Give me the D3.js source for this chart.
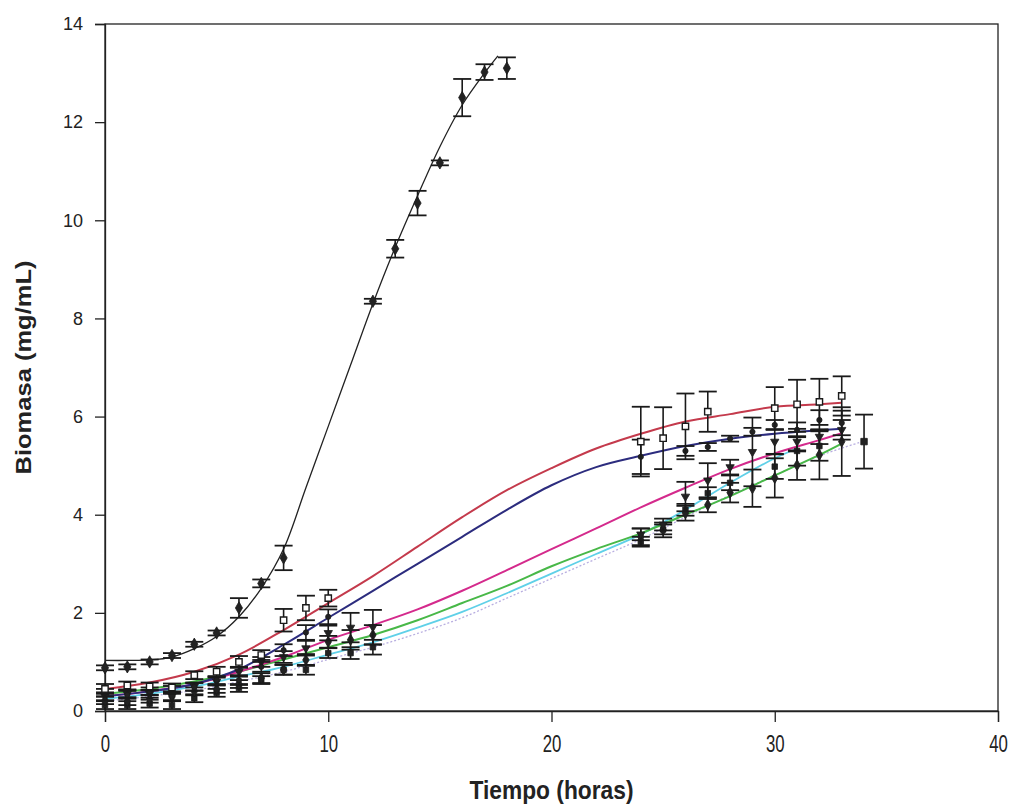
<!DOCTYPE html>
<html>
<head>
<meta charset="utf-8">
<script src="https://cdn.jsdelivr.net/npm/d3@7"></script>
<style>
  body { margin: 0; background: #fff; }
  svg { display: block; }
  .tick text { fill: #222; }
</style>
</head>
<body>
<svg id="chart" width="1017" height="808"></svg>
<script>
// fitted curves (x = hours, y = mg/mL)
const fitBlack   = [[0,1.03],[1,1.03],[2,1.04],[3,1.1],[4,1.27],[5,1.52],[6,1.92],[7,2.5],[8,3.3],[9,4.55],[10,5.8],[11,7.05],[12,8.3],[13,9.45],[14,10.5],[15,11.5],[16,12.35],[17,13.0],[17.6,13.35]];
const fitRed     = [[0,0.45],[2,0.58],[4,0.8],[6,1.15],[8,1.65],[10,2.2],[12,2.75],[14,3.35],[16,3.95],[18,4.5],[20,4.95],[22,5.35],[24,5.65],[26,5.9],[28,6.05],[30,6.2],[32,6.25],[33,6.28]];
const fitNavy    = [[0,0.3],[2,0.4],[4,0.55],[6,0.85],[8,1.35],[10,1.9],[12,2.45],[14,3.0],[16,3.55],[18,4.1],[20,4.6],[22,4.97],[24,5.2],[26,5.4],[28,5.55],[30,5.65],[32,5.72],[33,5.75]];
const fitMagenta = [[0,0.3],[2,0.4],[4,0.55],[6,0.8],[8,1.1],[10,1.45],[12,1.75],[14,2.07],[16,2.45],[18,2.87],[20,3.3],[22,3.72],[24,4.15],[26,4.55],[28,4.93],[30,5.25],[32,5.52],[33,5.66]];
const fitGreen   = [[0,0.35],[2,0.45],[4,0.6],[6,0.8],[8,1.05],[10,1.3],[12,1.55],[14,1.85],[16,2.2],[18,2.55],[20,2.95],[22,3.3],[24,3.62],[26,4.0],[28,4.38],[30,4.8],[32,5.22],[33,5.45]];
const fitCyan    = [[0,0.25],[2,0.35],[4,0.5],[6,0.7],[8,0.9],[10,1.15],[12,1.4],[14,1.7],[16,2.02],[18,2.4],[20,2.8],[22,3.2],[24,3.6],[26,4.1],[28,4.65],[30,5.15],[31,5.35]];
const fitLilac   = [[0,0.2],[2,0.3],[4,0.42],[6,0.6],[8,0.8],[10,1.05],[12,1.3],[14,1.58],[16,1.9],[18,2.3],[20,2.7],[22,3.1],[24,3.5],[26,3.95],[28,4.4],[30,4.8],[32,5.2],[34,5.5]];

// measured points [x, y, error]
const ptsBlack = [[0,0.88,0.05],[1,0.9,0.05],[2,1.0,0.05],[3,1.13,0.05],[4,1.36,0.05],[5,1.59,0.05],[6,2.1,0.2],[7,2.6,0.08],[8,3.12,0.25],[12,8.35,0.05],[13,9.42,0.18],[14,10.35,0.25],[15,11.17,0.05],[16,12.5,0.38],[17,13.02,0.16],[18,13.1,0.22]];
const ptsRed = [[0,0.45,0.1],[1,0.52,0.08],[2,0.5,0.08],[3,0.48,0.08],[4,0.73,0.08],[5,0.8,0.1],[6,1.0,0.12],[7,1.14,0.1],[8,1.85,0.23],[9,2.1,0.25],[10,2.3,0.17],[24,5.49,0.71],[25,5.56,0.63],[26,5.8,0.67],[27,6.1,0.41],[30,6.17,0.43],[31,6.25,0.5],[32,6.3,0.47],[33,6.42,0.4]];
const ptsNavy = [[0,0.37,0.08],[1,0.33,0.08],[2,0.4,0.08],[3,0.43,0.08],[4,0.49,0.08],[5,0.63,0.08],[6,0.63,0.1],[7,0.9,0.1],[8,1.24,0.12],[9,1.6,0.15],[10,1.92,0.15],[24,5.18,0.35],[26,5.3,0.1],[27,5.38,0.08],[28,5.55,0.06],[29,5.69,0.08],[30,5.83,0.1],[31,5.73,0.15],[32,5.93,0.2],[33,5.87,0.25]];
const ptsMagenta = [[0,0.3,0.08],[1,0.35,0.08],[2,0.35,0.08],[3,0.3,0.08],[4,0.5,0.08],[5,0.6,0.08],[6,0.8,0.1],[7,1.0,0.1],[8,1.1,0.12],[9,1.28,0.15],[10,1.59,0.15],[11,1.7,0.3],[12,1.71,0.35],[24,3.6,0.12],[25,3.8,0.12],[26,4.37,0.3],[27,4.7,0.35],[28,4.97,0.15],[29,5.28,0.7],[30,5.49,0.25],[31,5.49,0.2],[32,5.59,0.15],[33,5.73,0.2]];
const ptsGreen = [[0,0.22,0.08],[1,0.2,0.08],[2,0.25,0.08],[3,0.29,0.08],[4,0.4,0.08],[5,0.45,0.08],[6,0.55,0.08],[7,0.67,0.1],[8,0.84,0.1],[9,1.04,0.12],[10,1.41,0.12],[11,1.45,0.2],[12,1.55,0.2],[24,3.55,0.17],[25,3.69,0.15],[26,4.03,0.15],[27,4.2,0.15],[28,4.45,0.2],[29,4.54,0.38],[30,4.75,0.4],[31,5.01,0.3],[32,5.22,0.5],[33,5.49,0.7]];
const ptsCyan = [[0,0.12,0.08],[1,0.12,0.08],[2,0.15,0.08],[3,0.12,0.08],[4,0.26,0.08],[5,0.37,0.08],[6,0.47,0.08],[7,0.63,0.08],[8,0.84,0.1],[9,0.84,0.1],[10,1.18,0.1],[11,1.18,0.12],[12,1.3,0.15],[24,3.45,0.1],[25,3.7,0.1],[26,4.1,0.12],[27,4.44,0.12],[28,4.65,0.15],[30,4.98,0.25],[31,5.3,0.3],[32,5.4,0.3]];
const ptsLilac = [[34,5.49,0.55]];

const xTicks = [0, 10, 20, 30, 40];
const yTicks = [0, 2, 4, 6, 8, 10, 12, 14];

const margin = {left: 105, top: 24, right: 19, bottom: 97};
const width = 1017 - margin.left - margin.right;
const height = 808 - margin.top - margin.bottom;

const svg = d3.select('#chart');
const g = svg.append('g').attr('transform', `translate(${margin.left},${margin.top})`);

const x = d3.scaleLinear().domain([0, 40]).range([0, width]);
const y = d3.scaleLinear().domain([0, 14]).range([height, 0]);

// frame
g.append('rect')
  .attr('width', width).attr('height', height)
  .attr('fill', 'none').attr('stroke', '#222').attr('stroke-width', 1.3);

// axes
const xAxis = g.append('g')
  .attr('transform', `translate(0,${height})`)
  .call(d3.axisBottom(x).tickValues(xTicks).tickSize(11).tickPadding(13).tickFormat(d3.format('d')));
xAxis.selectAll('text')
  .style('font-family', '"Liberation Sans", Arial, sans-serif')
  .style('font-size', '24px')
  .attr('transform', 'scale(0.7,1)');

const yAxis = g.append('g')
  .call(d3.axisLeft(y).tickValues(yTicks).tickSize(10).tickPadding(12).tickFormat(d3.format('d')));
yAxis.selectAll('text')
  .style('font-family', '"Liberation Sans", Arial, sans-serif')
  .style('font-size', '18px');

[xAxis, yAxis].forEach(a => {
  a.select('.domain').attr('stroke', '#222').attr('stroke-width', 1.3);
  a.selectAll('.tick line').attr('stroke', '#222').attr('stroke-width', 1.3);
});

// axis titles
svg.append('text')
  .attr('x', margin.left + x(20) - 82).attr('y', 799)
  .attr('textLength', 164).attr('lengthAdjust', 'spacingAndGlyphs')
  .style('font-family', '"Liberation Sans", Arial, sans-serif')
  .style('font-weight', 'bold').style('font-size', '25px').attr('fill', '#222')
  .text('Tiempo (horas)');

svg.append('text')
  .attr('transform', `translate(31,${margin.top + y(7)}) rotate(-90)`)
  .attr('text-anchor', 'middle')
  .attr('textLength', 214).attr('lengthAdjust', 'spacingAndGlyphs')
  .style('font-family', '"Liberation Sans", Arial, sans-serif')
  .style('font-weight', 'bold').style('font-size', '22px').attr('fill', '#222')
  .text('Biomasa (mg/mL)');

// fitted curves
const line = d3.line().x(d => x(d[0])).y(d => y(d[1])).curve(d3.curveCatmullRom.alpha(0.5));
const fits = [
  {data: fitLilac, color: '#b8aee0', w: 1.3, dash: '2,2'},
  {data: fitCyan, color: '#5fd0e8', w: 1.8},
  {data: fitGreen, color: '#48b848', w: 2},
  {data: fitMagenta, color: '#d42a8c', w: 2},
  {data: fitNavy, color: '#2c2c7e', w: 2},
  {data: fitRed, color: '#c43a4c', w: 2},
  {data: fitBlack, color: '#222', w: 1.3}
];
g.append('g').selectAll('path')
  .data(fits)
  .join('path')
  .attr('d', d => line(d.data))
  .attr('fill', 'none')
  .attr('stroke', d => d.color)
  .attr('stroke-width', d => d.w)
  .attr('stroke-dasharray', d => d.dash || null);

// points with error bars
const series = [
  {data: ptsLilac, symbol: d3.symbolSquare, size: 42, fill: '#222'},
  {data: ptsCyan, symbol: d3.symbolSquare, size: 30, fill: '#222'},
  {data: ptsGreen, symbol: d3.symbolDiamond, size: 36, fill: '#222'},
  {data: ptsMagenta, symbol: d3.symbolTriangle, size: 30, fill: '#222', rotate: 180},
  {data: ptsNavy, symbol: d3.symbolCircle, size: 22, fill: '#222'},
  {data: ptsRed, symbol: d3.symbolSquare, size: 40, fill: '#fff'},
  {data: ptsBlack, symbol: d3.symbolDiamond, size: 44, fill: '#222'}
];
const cap = 9;

series.forEach(s => {
  const sg = g.append('g');
  const bars = sg.selectAll('g.bar').data(s.data).join('g').attr('class', 'bar');
  bars.append('line')
    .attr('x1', d => x(d[0])).attr('x2', d => x(d[0]))
    .attr('y1', d => y(d[1] + d[2])).attr('y2', d => y(d[1] - d[2]))
    .attr('stroke', '#1a1a1a').attr('stroke-width', 1.6);
  bars.append('line')
    .attr('x1', d => x(d[0]) - cap).attr('x2', d => x(d[0]) + cap)
    .attr('y1', d => y(d[1] + d[2])).attr('y2', d => y(d[1] + d[2]))
    .attr('stroke', '#1a1a1a').attr('stroke-width', 1.8);
  bars.append('line')
    .attr('x1', d => x(d[0]) - cap).attr('x2', d => x(d[0]) + cap)
    .attr('y1', d => y(d[1] - d[2])).attr('y2', d => y(d[1] - d[2]))
    .attr('stroke', '#1a1a1a').attr('stroke-width', 1.8);
  sg.selectAll('path.mk').data(s.data).join('path').attr('class', 'mk')
    .attr('d', d3.symbol().type(s.symbol).size(s.size))
    .attr('transform', d => `translate(${x(d[0])},${y(d[1])})` + (s.rotate ? ` rotate(${s.rotate})` : ''))
    .attr('fill', s.fill)
    .attr('stroke', '#1a1a1a').attr('stroke-width', s.fill === '#fff' ? 1.4 : 0.8);
});
</script>
</body>
</html>
